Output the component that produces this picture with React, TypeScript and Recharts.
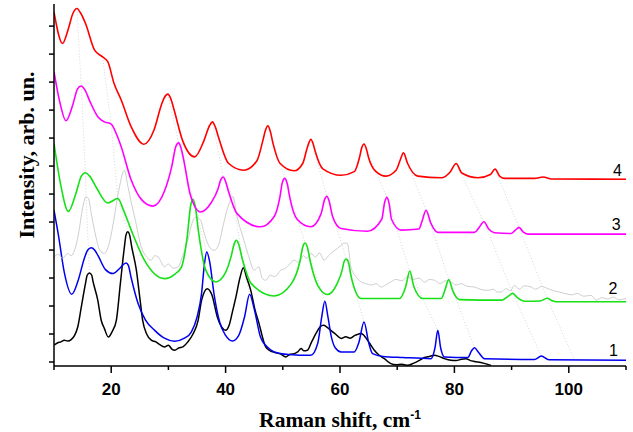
import React from 'react';
import { LineChart, Line, XAxis, YAxis, ReferenceDot } from 'recharts';

// ---- axis ticks ----
const xAllTicks = [10, 20, 30, 40, 50, 60, 70, 80, 90, 100, 110];
const xMajorTicks = [20, 40, 60, 80, 100];
const yTicks = [0, 1, 2, 3, 4, 5, 6, 7, 8, 9, 10, 11, 12];

// ---- spectrum 4 (red) ----
const redX = [10, 11.5, 12.5, 13.3, 14.0, 14.7, 15.5, 17.1, 18.5, 19.4, 20.5, 21.75, 23.5, 25.7, 27.5, 28.8, 29.3, 29.9, 30.4, 31.0, 32.5, 34.6, 36.2, 37.2, 37.7, 38.2, 38.8, 40.5, 43.2, 45.5, 46.5, 47.0, 47.4, 47.8, 48.3, 49.5, 52.0, 53.5, 54.2, 54.55, 54.9, 55.3, 55.7, 57.0, 60.2, 62.5, 63.4, 63.8, 64.2, 64.6, 65.0, 66.3, 68.0, 69.8, 70.5, 71.1, 71.8, 73.6, 77.7, 79.3, 80.3, 81.3, 84.1, 86.3, 87.1, 88.0, 88.8, 94.0, 95.5, 97, 110];
const redY = [12.5, 11.38, 11.9, 12.45, 12.63, 12.45, 12.1, 11.14, 10.9, 10.73, 9.95, 9.36, 8.4, 7.78, 8.3, 9.2, 9.45, 9.57, 9.42, 9.0, 7.9, 7.33, 7.9, 8.45, 8.58, 8.4, 8.0, 7.1, 6.85, 7.2, 7.9, 8.3, 8.44, 8.25, 7.8, 7.1, 6.83, 7.1, 7.6, 7.82, 7.96, 7.8, 7.5, 6.9, 6.67, 6.8, 7.3, 7.65, 7.79, 7.62, 7.3, 6.8, 6.64, 6.85, 7.2, 7.47, 7.1, 6.64, 6.58, 6.8, 7.09, 6.75, 6.58, 6.7, 6.89, 6.62, 6.56, 6.56, 6.61, 6.54, 6.53];

// ---- spectrum 3 (magenta) ----
const magX = [10, 11, 12.1, 13.3, 14.1, 14.75, 15.4, 16.3, 17.7, 18.8, 20.0, 21.0, 21.75, 23.5, 25.3, 27.3, 29.3, 30.6, 31.3, 31.8, 32.2, 32.6, 33.8, 35.6, 37.5, 38.7, 39.1, 39.6, 40.0, 40.5, 42.0, 46.1, 48.5, 49.5, 49.9, 50.35, 50.8, 51.2, 52.5, 54.9, 56.7, 57.3, 57.7, 58.1, 58.7, 60.2, 64.8, 67.3, 67.8, 68.2, 68.6, 69.0, 70.7, 73.8, 74.3, 75.05, 75.9, 77.1, 83.5, 84.3, 85.15, 86.0, 87.0, 89.9, 90.6, 91.3, 92.0, 92.85, 110];
const magY = [10.37, 9.3, 8.62, 9.2, 9.75, 9.86, 9.72, 9.3, 8.75, 8.58, 8.5, 8.1, 7.69, 6.5, 5.8, 5.57, 6.1, 7.0, 7.7, 7.83, 7.65, 7.3, 6.0, 5.36, 5.7, 6.2, 6.48, 6.61, 6.45, 6.1, 5.3, 4.83, 5.2, 5.9, 6.4, 6.56, 6.35, 5.9, 5.1, 4.83, 5.3, 5.8, 5.92, 5.75, 5.2, 4.77, 4.67, 5.1, 5.7, 5.88, 5.65, 5.1, 4.71, 4.75, 5.0, 5.42, 4.95, 4.63, 4.63, 4.8, 5.01, 4.75, 4.62, 4.59, 4.7, 4.81, 4.65, 4.57, 4.57];

// ---- spectrum 2 (green) ----
const greenX = [10, 11.2, 12.5, 13.8, 14.8, 15.5, 16.2, 17.5, 19.4, 21.15, 22.2, 23.5, 25.8, 29.3, 31.2, 32.3, 33.3, 33.9, 34.3, 34.7, 35.3, 36.5, 38.3, 40.0, 41.0, 41.5, 41.9, 42.3, 42.9, 44.5, 48.5, 51.5, 53.0, 53.5, 53.9, 54.3, 54.8, 56.2, 57.8, 59.5, 60.4, 60.7, 61.1, 61.5, 61.9, 63.7, 70.4, 71.5, 72.2, 72.9, 74.5, 77.7, 78.4, 79.0, 79.7, 80.9, 88.2, 89.4, 90.2, 91.0, 92.3, 95.0, 96.2, 97.0, 97.8, 110];
const greenY = [7.81, 6.3, 5.38, 6.0, 6.65, 6.76, 6.65, 6.2, 5.68, 5.84, 5.4, 4.71, 3.64, 2.98, 3.15, 3.4, 4.5, 5.6, 5.81, 5.55, 4.6, 3.3, 2.86, 3.2, 3.8, 4.22, 4.35, 4.2, 3.7, 2.8, 2.36, 2.8, 3.6, 4.12, 4.25, 4.1, 3.6, 2.7, 2.41, 2.8, 3.3, 3.58, 3.68, 3.55, 3.1, 2.27, 2.27, 2.7, 3.25, 2.7, 2.27, 2.27, 2.6, 2.95, 2.55, 2.23, 2.21, 2.35, 2.45, 2.3, 2.17, 2.18, 2.28, 2.2, 2.15, 2.15];

// ---- spectrum 2 (grey, noisy) ----
const greyX = [10, 10.8, 11.5, 12.4, 13.0, 13.6, 14.3, 15.0, 15.6, 16.0, 16.6, 17.3, 18.0, 18.8, 19.6, 20.4, 21.3, 22.3, 22.9, 23.5, 24.1, 25.25, 26.0, 27.0, 27.6, 28.2, 28.8, 29.3, 30.0, 30.8, 31.7, 32.5, 33.4, 34.2, 34.8, 35.6, 36.4, 37.2, 38.0, 38.8, 39.6, 40.5, 41.3, 42.0, 43.2, 44.0, 45.0, 45.8, 46.4, 47.0, 47.8, 48.6, 49.65, 50.5, 51.2, 52.0, 52.8, 53.6, 54.2, 54.9, 55.7, 56.4, 57.2, 58.0, 58.8, 59.5, 60.2, 60.8, 61.3, 61.9, 62.6, 63.7, 64.5, 65.5, 66.3, 67.2, 68.0, 68.9, 69.8, 70.8, 71.8, 72.8, 73.8, 74.8, 75.6, 76.5, 77.5, 78.4, 79.4, 80.3, 81.2, 82.3, 83.5, 84.5, 85.85, 86.8, 87.5, 88.2, 89.0, 89.8, 90.5, 91.3, 92.2, 93.4, 94.2, 95.2, 96.35, 97.3, 98.3, 99.3, 100.5, 101.5, 102.6, 103.9, 104.8, 105.8, 106.8, 107.8, 108.8, 110];
const greyY = [3.75, 3.85, 3.7, 3.88, 3.8, 4.0, 4.6, 5.5, 5.9, 5.85, 5.2, 4.5, 4.0, 3.88, 4.2, 5.0, 6.1, 6.85, 6.3, 5.7, 5.18, 4.11, 3.8, 3.64, 3.8, 3.75, 3.55, 3.4, 3.5, 3.35, 3.4, 3.8, 4.35, 5.0, 5.18, 5.07, 4.5, 4.1, 3.99, 4.2, 4.9, 5.6, 5.9, 5.2, 4.35, 3.8, 3.28, 3.4, 3.0, 2.92, 3.1, 3.05, 3.28, 3.35, 3.5, 3.64, 3.55, 3.8, 3.7, 3.88, 3.75, 3.9, 3.64, 3.8, 3.95, 4.05, 4.17, 4.25, 4.23, 3.4, 3.1, 2.86, 2.8, 2.75, 2.8, 2.68, 2.75, 2.86, 2.95, 2.9, 3.04, 2.95, 3.0, 2.85, 2.95, 2.92, 2.8, 2.9, 2.86, 2.75, 2.8, 2.7, 2.68, 2.6, 2.56, 2.6, 2.5, 2.5, 2.62, 2.55, 2.74, 2.6, 2.72, 2.68, 2.6, 2.7, 2.62, 2.55, 2.5, 2.45, 2.4, 2.45, 2.35, 2.38, 2.21, 2.3, 2.25, 2.32, 2.22, 2.27];

// ---- spectrum 1 (blue) ----
const blueX = [10, 10.8, 11.8, 13.1, 14.2, 15.3, 15.9, 16.5, 17.1, 17.7, 19.0, 20.3, 21.5, 22.1, 22.6, 23.0, 23.5, 24.7, 26.0, 27.6, 29.3, 31.1, 32.8, 34.0, 35.0, 35.8, 36.3, 36.7, 37.2, 38.0, 39.0, 40.0, 41.2, 42.3, 43.3, 44.2, 45.0, 46.1, 47.2, 48.5, 51.0, 54.9, 56.1, 56.8, 57.35, 57.9, 58.5, 59.2, 60.2, 62.5, 63.3, 64.2, 65.0, 65.7, 67.5, 71.0, 75.9, 76.6, 77.1, 77.6, 78.25, 82.35, 83.0, 83.5, 84.2, 85.25, 94.0, 95.2, 96.5, 110];
const blueY = [5.42, 4.5, 3.2, 2.42, 2.9, 3.7, 4.0, 4.08, 4.0, 3.8, 3.3, 3.16, 3.35, 3.48, 3.54, 3.45, 3.0, 2.09, 1.5, 1.13, 0.85, 0.74, 0.85, 1.07, 1.6, 2.45, 3.5, 3.93, 3.6, 2.4, 1.4, 0.95, 0.75, 0.95, 1.6, 2.42, 1.9, 0.89, 0.55, 0.36, 0.27, 0.24, 0.66, 1.6, 2.17, 1.6, 0.89, 0.5, 0.36, 0.36, 0.7, 1.43, 0.7, 0.3, 0.2, 0.16, 0.12, 0.5, 1.13, 0.5, 0.18, 0.16, 0.4, 0.51, 0.35, 0.12, 0.09, 0.21, 0.08, 0.06];

// ---- spectrum 1 (black, noisy) ----
const blackX = [10, 10.6, 11.2, 11.8, 12.4, 13.0, 13.6, 14.15, 14.8, 15.5, 15.8, 16.2, 16.6, 16.8, 17.65, 18.25, 18.8, 19.5, 20.2, 20.9, 21.6, 22.3, 22.6, 22.9, 23.2, 23.6, 24.4, 25.0, 25.5, 26.2, 27.0, 27.8, 28.5, 29.3, 30.0, 30.6, 31.1, 31.8, 32.6, 33.4, 34.3, 35.2, 35.8, 36.8, 37.6, 38.55, 39.3, 40.0, 40.6, 41.2, 41.8, 42.5, 43.1, 43.7, 44.4, 45.1, 45.85, 46.5, 47.0, 47.8, 48.6, 49.65, 50.5, 51.3, 52.0, 52.6, 53.2, 53.7, 54.3, 55.0, 55.8, 56.5, 57.1, 57.7, 58.4, 59.2, 60.2, 61.0, 61.8, 62.6, 63.3, 63.7, 64.2, 64.8, 65.4, 66.0, 66.8, 67.75, 68.9, 69.8, 70.8, 71.8, 72.8, 73.8, 74.75, 75.6, 76.5, 77.3, 78.25, 79.4, 80.3, 81.2, 82.0, 82.8, 83.5, 84.1, 85.2, 86.4];
const blackY = [0.6, 0.68, 0.72, 0.78, 0.75, 0.8, 0.95, 1.25, 2.0, 2.8, 3.1, 3.18, 3.1, 2.9, 2.21, 1.49, 1.2, 0.89, 1.1, 1.49, 2.8, 4.1, 4.55, 4.65, 4.55, 4.1, 3.28, 2.3, 1.49, 1.0, 0.78, 0.72, 0.62, 0.54, 0.6, 0.46, 0.42, 0.5, 0.55, 0.72, 1.0, 1.49, 2.2, 2.62, 2.4, 1.61, 1.25, 1.13, 1.3, 1.8, 2.32, 3.0, 3.37, 3.0, 2.56, 1.9, 1.37, 0.85, 0.54, 0.4, 0.34, 0.28, 0.18, 0.28, 0.3, 0.36, 0.48, 0.4, 0.42, 0.7, 1.02, 1.25, 1.31, 1.25, 1.13, 1.0, 0.84, 0.9, 0.85, 0.95, 1.0, 1.02, 0.95, 0.78, 0.6, 0.42, 0.25, 0.12, -0.06, -0.1, -0.08, -0.12, -0.05, 0.05, 0.16, 0.2, 0.24, 0.2, 0.12, 0.06, 0.05, 0.1, 0.12, 0.05, 0.02, 0.0, -0.05, -0.12];

// ---- dotted guide lines linking corresponding peaks ----
const guideLinesX = [
  [14.0, 14.75, 15.5, 15.6, 16.2],
  [18.5, 20.0, 21.15, 22.9],
  [29.9, 31.8, 34.3, 36.7],
  [37.7, 39.6, 41.3, 43.1, 44.2],
  [47.4, 50.35, 53.9, 57.35],
  [54.9, 57.7, 61.1, 64.2],
  [64.2, 68.2, 72.2, 77.1],
  [71.1, 75.05, 79.0, 83.5],
  [80.3, 85.15, 90.2, 95.2],
  [87.1, 91.3, 96.2, 101.0],
];
const guideLinesY = [
  [12.63, 9.86, 6.76, 5.9, 3.18],
  [10.9, 8.5, 5.84, 4.65],
  [9.57, 7.83, 5.81, 3.93],
  [8.58, 6.61, 5.9, 3.37, 2.42],
  [8.44, 6.56, 4.25, 2.17],
  [7.96, 5.92, 3.68, 1.43],
  [7.79, 5.88, 3.25, 1.13],
  [7.47, 5.42, 2.95, 0.51],
  [7.09, 5.01, 2.45, 0.21],
  [6.89, 4.81, 2.28, 0.06],
];

// ---- curve numbers at the right ----
const curveLabels = ['4', '3', '2', '1'];
const curveLabelX = [108.5, 108.3, 107.7, 107.8];
const curveLabelY = [6.85, 4.92, 2.63, 0.42];

const pts = (xs: number[], ys: number[]) => xs.map((x, i) => ({ x, y: ys[i] }));

const XTick = (props: any) => {
  const { x, y, payload } = props;
  const major = xMajorTicks.includes(payload.value);
  return (
    <g>
      <line x1={x} x2={x} y1={y} y2={y + (major ? 7 : 4)} stroke="#000" strokeWidth={1.5} />
      {major && (
        <text
          x={x}
          y={y + 29}
          textAnchor="middle"
          fontFamily="'Liberation Sans', Arial, sans-serif"
          fontWeight="bold"
          fontSize={17}
          fill="#000"
        >
          {payload.value}
        </text>
      )}
    </g>
  );
};

const XTitle = () => (
  <text
    x={340}
    y={427}
    textAnchor="middle"
    fontFamily="'Liberation Serif', 'Times New Roman', serif"
    fontWeight="bold"
    fontSize={21.5}
    fill="#000"
  >
    Raman shift, cm
    <tspan dy={-8} fontSize={12} fontFamily="'Liberation Sans', Arial, sans-serif">-1</tspan>
  </text>
);

const YTitle = () => (
  <text
    x={34}
    y={155}
    transform="rotate(-90, 34, 155)"
    textAnchor="middle"
    fontFamily="'Liberation Serif', 'Times New Roman', serif"
    fontWeight="bold"
    fontSize={22}
    fill="#000"
  >
    Intensity, arb. un.
  </text>
);

const series = [
  { key: 'black', xs: blackX, ys: blackY, color: '#000000', w: 1.5 },
  { key: 'blue', xs: blueX, ys: blueY, color: '#0000f0', w: 1.5 },
  { key: 'grey', xs: greyX, ys: greyY, color: '#c2c2c2', w: 0.8 },
  { key: 'green', xs: greenX, ys: greenY, color: '#16e016', w: 1.6 },
  { key: 'magenta', xs: magX, ys: magY, color: '#ff00ff', w: 1.6 },
  { key: 'red', xs: redX, ys: redY, color: '#ff0000', w: 1.6 },
];

export default function App() {
  return (
    <div style={{ position: 'absolute', left: 0, top: 0, background: '#fff' }}>
      <LineChart width={633} height={432} margin={{ top: 4, right: 7, bottom: 0, left: 0 }}>
        <XAxis
          dataKey="x"
          type="number"
          domain={[10, 110]}
          ticks={xAllTicks}
          interval={0}
          tick={XTick}
          tickLine={false}
          tickSize={0}
          tickMargin={0}
          axisLine={{ stroke: '#000', strokeWidth: 1.5 }}
          height={66}
          allowDataOverflow
          label={<XTitle />}
        />
        <YAxis
          type="number"
          domain={[-0.143, 12.79]}
          ticks={yTicks}
          interval={0}
          tickFormatter={() => ''}
          tickSize={5}
          tickLine={{ stroke: '#000', strokeWidth: 1.5 }}
          axisLine={{ stroke: '#000', strokeWidth: 1.5 }}
          width={54}
          allowDataOverflow
          label={<YTitle />}
        />
        {guideLinesX.map((gx, i) => (
          <Line
            key={'g' + i}
            data={pts(gx, guideLinesY[i])}
            dataKey="y"
            type="linear"
            stroke="#c4c4c4"
            strokeWidth={0.7}
            strokeDasharray="1 2"
            dot={false}
            activeDot={false}
            isAnimationActive={false}
          />
        ))}
        {series.map((s) => (
          <Line
            key={s.key}
            data={pts(s.xs, s.ys)}
            dataKey="y"
            type="monotone"
            stroke={s.color}
            strokeWidth={s.w}
            dot={false}
            activeDot={false}
            isAnimationActive={false}
          />
        ))}
        {curveLabels.map((t, i) => (
          <ReferenceDot
            key={'l' + t}
            x={curveLabelX[i]}
            y={curveLabelY[i]}
            r={0}
            fill="none"
            stroke="none"
            label={{
              value: t,
              position: 'center',
              fill: '#000',
              fontSize: 16,
              fontFamily: "'Liberation Sans', Arial, sans-serif",
            }}
          />
        ))}
      </LineChart>
    </div>
  );
}
